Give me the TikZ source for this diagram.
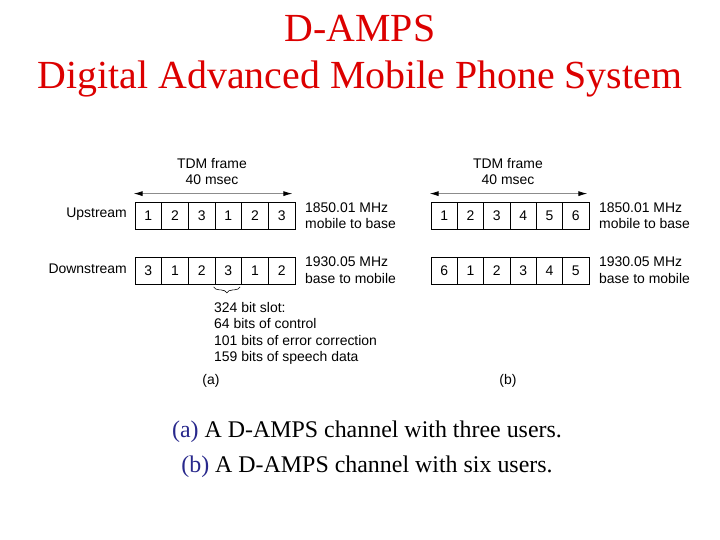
\documentclass[tikz,border=0pt]{standalone}
\usepackage{fontspec}
\setmainfont{Liberation Serif}
\newfontfamily\diasans{Liberation Sans}
\usetikzlibrary{arrows.meta,decorations.pathreplacing}
\definecolor{titlered}{RGB}{220,0,0}
\definecolor{capblue}{RGB}{40,40,140}
\definecolor{arrowgray}{RGB}{140,140,140}
\tikzset{
  cell/.style={draw=black, line width=0.8bp, minimum height=27bp, inner sep=0pt, font=\diasans\fontsize{14}{16.5}\selectfont},
  cella/.style={cell, minimum width=26.67bp},
  cellb/.style={cell, minimum width=26.33bp},
  lbl/.style={inner sep=0pt, font=\diasans\fontsize{14}{16.5}\selectfont},
  frq/.style={lbl, anchor=west, align=left},
  titletxt/.style={inner sep=0pt, anchor=base, text=titlered, font=\fontsize{40}{44}\selectfont},
  captxt/.style={inner sep=0pt, anchor=base, font=\fontsize{24}{28}\selectfont},
  span/.style={arrowgray, line width=0.8bp, {Latex[black,length=9bp,width=5bp]}-{Latex[black,length=9bp,width=5bp]}}
}
\begin{document}
\begin{tikzpicture}[x=1bp,y=-1bp]
\useasboundingbox[fill=white] (0,0) rectangle (720,540);
% title
\node[titletxt] (t1) at (360,42) {D-AMPS};
\node[titletxt] (t2) at (360,89) {Digital Advanced Mobile Phone System};
% (a)
\foreach \n [count=\i] in {1,2,3,1,2,3}
  \node[cella] (ua\i) at ({135+(\i-0.5)*26.67},215.5) {\n};
\foreach \n [count=\i] in {3,1,2,3,1,2}
  \node[cella] (da\i) at ({135+(\i-0.5)*26.67},271) {\n};
\node[lbl, align=center] (tdma) at (212,171.5) {TDM frame\\40 msec};
\draw[span] ([xshift=-1bp,yshift=8bp]ua1.north west) -- ([xshift=-3bp,yshift=8bp]ua6.north east);
\node[lbl, anchor=east] (up) at (127,214) {Upstream};
\node[lbl, anchor=east] (down) at (127,268.5) {Downstream};
\node[frq] (fa1) at (305,215.5) {1850.01 MHz\\mobile to base};
\node[frq] (fa2) at (305,270) {1930.05 MHz\\base to mobile};
\draw[line width=0.6bp, decorate, decoration={brace, amplitude=6bp, mirror}]
  ([xshift=-1bp,yshift=-2bp]da4.south west) -- ([xshift=-2bp,yshift=-2bp]da4.south east);
\node[lbl, anchor=north west, align=left] (slot) at (214,302) {324 bit slot:\\64 bits of control\\101 bits of error correction\\159 bits of speech data};
\node[lbl] (pa) at (211,381) {(a)};
% (b)
\foreach \n [count=\i] in {1,2,3,4,5,6}
  \node[cellb] (ub\i) at ({431+(\i-0.5)*26.33},215.5) {\n};
\foreach \n [count=\i] in {6,1,2,3,4,5}
  \node[cellb] (db\i) at ({431+(\i-0.5)*26.33},271) {\n};
\node[lbl, align=center] (tdmb) at (508,171.5) {TDM frame\\40 msec};
\draw[span] ([xshift=-1bp,yshift=8bp]ub1.north west) -- ([xshift=-2bp,yshift=8bp]ub6.north east);
\node[frq] (fb1) at (599,215.5) {1850.01 MHz\\mobile to base};
\node[frq] (fb2) at (599,270) {1930.05 MHz\\base to mobile};
\node[lbl] (pb) at (508,381) {(b)};
% caption
\node[captxt] (c1) at (367,437) {\textcolor{capblue}{(a)} A D-AMPS channel with three users.};
\node[captxt] (c2) at (367,472) {\textcolor{capblue}{(b)} A D-AMPS channel with six users.};
\end{tikzpicture}
\end{document}
